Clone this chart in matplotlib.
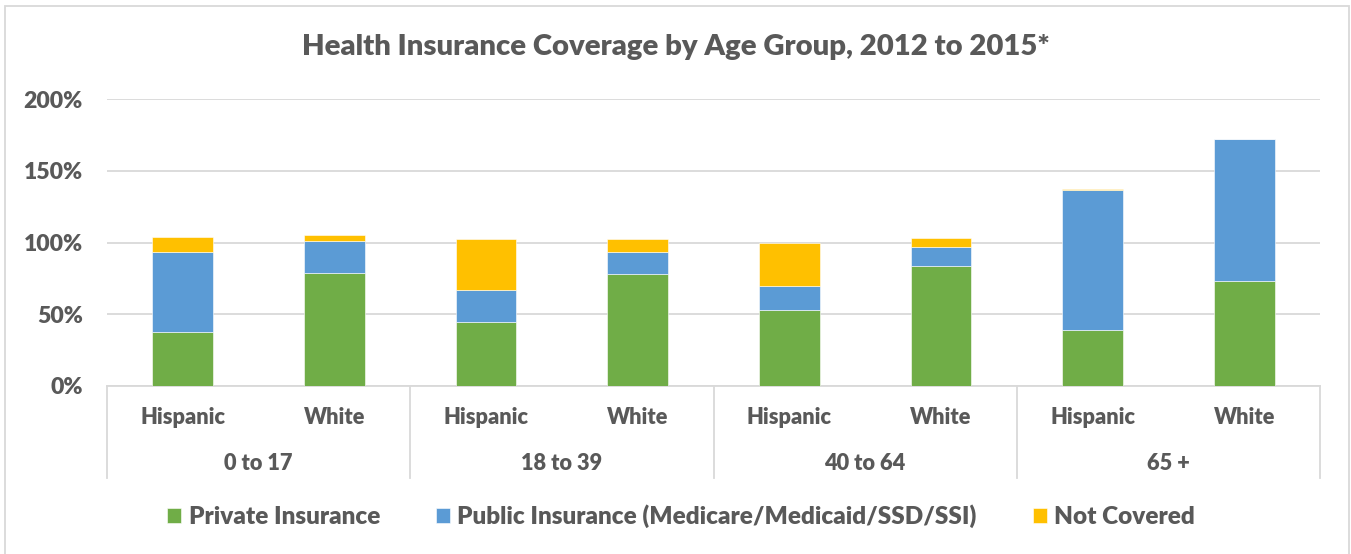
import matplotlib.pyplot as plt
from matplotlib.patches import Rectangle
import numpy as np

# data (percent)
age_groups = ['0 to 17', '18 to 39', '40 to 64', '65 +']
races = ['Hispanic', 'White']
private = [37.8, 78.8, 44.5, 78.3, 52.9, 83.7, 39.2, 73.2]
public = [55.9, 22.1, 22.2, 14.9, 16.6, 13.0, 97.6, 98.6]
not_covered = [10.0, 4.2, 35.4, 8.9, 30.3, 6.6, 0.7, 0.3]
yticks = [0, 50, 100, 150, 200]

W, H = 1351, 554
txt = '#595959'
grid = '#d9d9d9'
wt = 'heavy'
plt.rcParams['font.family'] = ['Lato', 'DejaVu Sans']

def pt(px):
    return px * 72 / 100

fig = plt.figure(figsize=(W / 100, H / 100), dpi=100)
ax = fig.add_axes([107 / W, 1 - 386 / H, (1320 - 107) / W, (386 - 99) / H])

x = np.arange(len(private))
bottom2 = np.array(private)
bottom3 = bottom2 + np.array(public)
b1 = ax.bar(x, private, 0.4, color='#70ad47', edgecolor='#ffffff', linewidth=0.4, zorder=3)
b2 = ax.bar(x, public, 0.4, bottom=bottom2, color='#5b9bd5', edgecolor='#ffffff', linewidth=0.4, zorder=3)
b3 = ax.bar(x, not_covered, 0.4, bottom=bottom3, color='#ffc000', edgecolor='#ffffff', linewidth=0.4, zorder=3)

ax.set_xlim(-0.5, len(private) - 0.5)
ax.set_ylim(0, 200)
ax.set_yticks(yticks)
ax.set_yticklabels(['%d%%' % v for v in yticks], color=txt, fontsize=pt(23), fontweight=wt)
ax.tick_params(axis='y', length=0, pad=pt(24))
ax.yaxis.grid(True, color=grid, linewidth=1.3, zorder=0)
ax.set_xticks([])
for s in ['top', 'right', 'left']:
    ax.spines[s].set_visible(False)
ax.spines['bottom'].set_color(grid)
ax.spines['bottom'].set_linewidth(1.3)

# two-level category axis
tr = ax.get_xaxis_transform()
sep_bottom = -(478 - 386) / (386 - 99)
for i in range(len(age_groups) + 1):
    ax.plot([2 * i - 0.5, 2 * i - 0.5], [0, sep_bottom], color=grid, lw=1.3,
            transform=tr, clip_on=False)
for i, xi in enumerate(x):
    ax.text(xi, -(417 - 386) / (386 - 99), races[i % 2], transform=tr, ha='center', va='center',
            color=txt, fontsize=pt(21.8), fontweight=wt)
for i, g in enumerate(age_groups):
    ax.text(2 * i + 0.5, -(464 - 386) / (386 - 99), g, transform=tr, ha='center', va='center',
            color=txt, fontsize=pt(21.8), fontweight=wt)

fig.text(0.5, 1 - 47 / H, 'Health Insurance Coverage by Age Group, 2012 to 2015*',
         ha='center', va='center', color=txt, fontsize=pt(29.2), fontweight=wt)

leg = fig.legend([b1[0], b2[0], b3[0]],
                 ['Private Insurance', 'Public Insurance (Medicare/Medicaid/SSD/SSI)', 'Not Covered'],
                 loc='center', bbox_to_anchor=(681 / W, 1 - 516 / H), ncol=3, frameon=False,
                 prop={'size': pt(24.3), 'weight': wt}, labelcolor=txt,
                 handlelength=0.58, handleheight=0.58, handletextpad=0.3, columnspacing=2.3)

fig.patches.append(Rectangle((5 / W, -0.1), (1349 - 5) / W, 1.1 - 6 / H, transform=fig.transFigure,
                             fill=False, edgecolor=grid, linewidth=1.3))

fig.savefig('out.png', dpi=100)
